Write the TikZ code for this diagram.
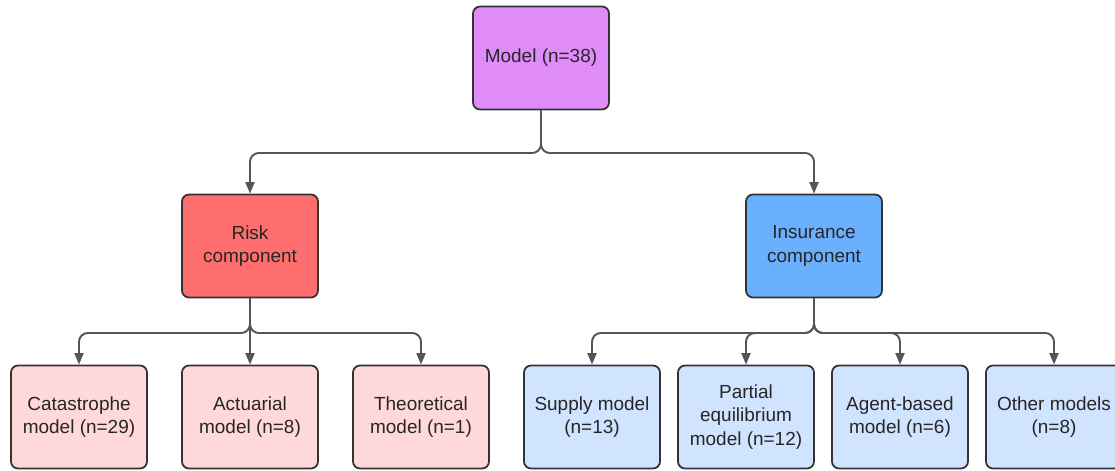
\documentclass[tikz,border=0pt]{standalone}
\usepackage{fontspec}
\setmainfont{Liberation Sans}
\usetikzlibrary{arrows.meta}
\definecolor{boxline}{HTML}{333333}
\definecolor{linkgray}{HTML}{555555}
\definecolor{modelcol}{HTML}{DF8CF9}
\definecolor{riskcol}{HTML}{FF6E6E}
\definecolor{inscol}{HTML}{6AB0FF}
\definecolor{riskpale}{HTML}{FFD9D9}
\definecolor{inspale}{HTML}{D0E4FF}
\begin{document}
\begin{tikzpicture}[x=0.02cm,y=-0.02cm,
		font=\fontsize{10.8}{13.3}\selectfont,
		box/.style={draw=boxline,line width=1pt,rounded corners=4pt,minimum width=2.72cm,minimum height=2.06cm,align=center,text=black!85,inner sep=2pt},
		link/.style={draw=linkgray,line width=1.1pt,rounded corners=5pt,-{Triangle[length=2.3mm,width=1.8mm]}}]
	\useasboundingbox (0,0) rectangle (1115,470);
	\node[box,fill=modelcol] (model) at (541,58) {Model (n=38)};
	\node[box,fill=riskcol] (risk) at (250,246) {Risk\\component};
	\node[box,fill=inscol] (ins) at (814,246) {Insurance\\component};
	\node[box,fill=riskpale] (cat) at (79,417) {Catastrophe\\model (n=29)};
	\node[box,fill=riskpale] (act) at (250,417) {Actuarial\\model (n=8)};
	\node[box,fill=riskpale] (theo) at (421,417) {Theoretical\\model (n=1)};
	\node[box,fill=inspale] (sup) at (592,417) {Supply model\\(n=13)};
	\node[box,fill=inspale] (part) at (746,417) {Partial\\equilibrium\\model (n=12)};
	\node[box,fill=inspale] (agent) at (900,417) {Agent-based\\model (n=6)};
	\node[box,fill=inspale] (other) at (1054,417) {Other models\\(n=8)};
	% top level
	\foreach \t in {risk,ins}{\draw[link] (model.south) |- (541,153) -| (\t.north);}
	% second level
	\foreach \t in {cat,act,theo}{\draw[link] (risk.south) -- (250,333) -| (\t.north);}
	\foreach \t in {sup,part,agent,other}{\draw[link] (ins.south) -- (814,333) -| (\t.north);}
\end{tikzpicture}
\end{document}
